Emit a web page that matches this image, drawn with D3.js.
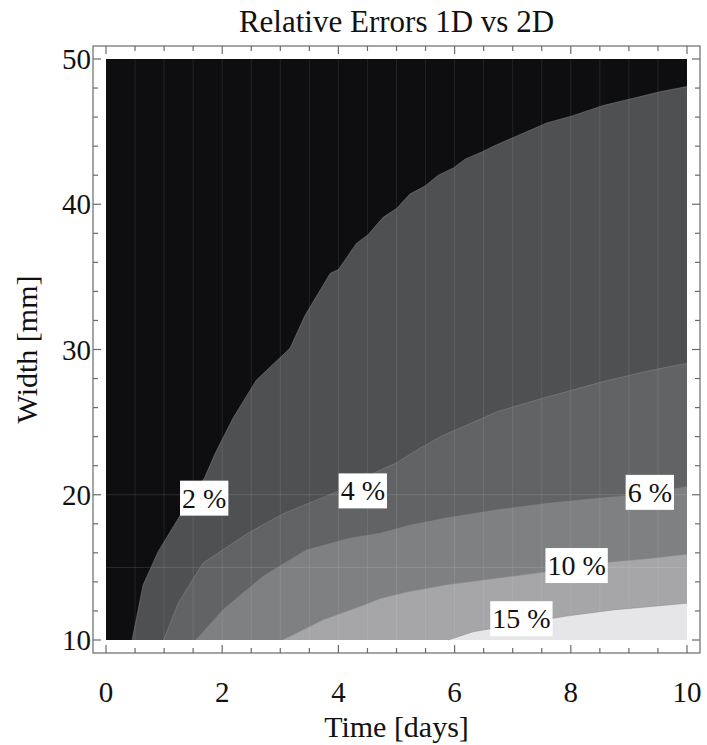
<!DOCTYPE html>
<html>
<head>
<meta charset="utf-8">
<script src="https://cdn.jsdelivr.net/npm/d3@7"></script>
<style>
  body { margin: 0; background: #fff; }
  text { font-family: "Liberation Serif", "Times New Roman", serif; fill: #111; }
</style>
</head>
<body>
<svg id="chart" width="707" height="745"></svg>
<script>
// contour lines: [time (days), width (mm)]
const contour2 = [[0.45, 10], [0.64, 13.8], [0.9, 16.1], [1.25, 18.4], [1.7, 21.2], [1.88, 22.85],
    [2.19, 25.3], [2.59, 27.9], [3.17, 30.1], [3.42, 32.3], [3.86, 35.25], [4.0, 35.5], [4.31, 37.3],
    [4.51, 37.9], [4.77, 39.1], [5.0, 39.7], [5.23, 40.7], [5.49, 41.25], [5.72, 42.0], [5.98, 42.5],
    [6.18, 43.1], [6.47, 43.6], [6.67, 44.0], [7.13, 44.8], [7.59, 45.6], [8.04, 46.1], [8.56, 46.8],
    [9.08, 47.3], [9.54, 47.75], [10, 48.1]];
const contour4 = [[0.99, 10], [1.25, 12.6], [1.67, 15.3], [2.42, 17.3], [3.05, 18.7], [4.03, 20.3],
    [4.72, 21.7], [5.0, 22.2], [5.4, 23.2], [5.81, 24.1], [6.27, 24.9], [6.72, 25.7], [7.3, 26.4],
    [7.93, 27.1], [8.56, 27.8], [9.31, 28.5], [10, 29.05]];
const contour6 = [[1.55, 10], [2.02, 12.1], [2.71, 14.4], [3.45, 16.2], [4.2, 17.0], [4.72, 17.35],
    [5.23, 17.9], [5.86, 18.4], [6.72, 18.95], [7.59, 19.4], [8.45, 19.75], [9.19, 20.0], [10, 20.55]];
const contour10 = [[3.04, 10], [3.74, 11.4], [4.43, 12.4], [4.72, 12.85], [5.17, 13.3], [5.86, 13.8],
    [6.72, 14.25], [7.59, 14.7], [8.45, 15.28], [9.31, 15.6], [10, 15.9]];
const contour15 = [[5.89, 10], [6.32, 10.57], [7.1, 11.1], [7.93, 11.65], [8.73, 12.07], [9.48, 12.34], [10, 12.53]];

const contours = [contour2, contour4, contour6, contour10, contour15];
const bandColors = ["#0e0e10", "#4f5052", "#626365", "#7f8082", "#a6a6a9", "#e6e6e8"];

const labelText = ["2 %", "4 %", "6 %", "10 %", "15 %"];
const labelTime = [1.69, 4.42, 9.36, 8.1, 7.15];
const labelWidth = [19.8, 20.3, 20.2, 15.16, 11.5];

const xTicks = [0, 2, 4, 6, 8, 10];
const yTicks = [10, 20, 30, 40, 50];

const svg = d3.select("#chart");
const x = d3.scaleLinear().domain([0, 10]).range([106, 687]);
const y = d3.scaleLinear().domain([10, 50]).range([640, 59]);
const pad = 13;

// background band
svg.append("rect")
    .attr("x", x(0)).attr("y", y(50))
    .attr("width", x(10) - x(0)).attr("height", y(10) - y(50))
    .attr("fill", bandColors[0]);

const area = d3.area()
    .x(d => x(d[0]))
    .y0(y(10))
    .y1(d => y(d[1]));

const line = d3.line()
    .x(d => x(d[0]))
    .y(d => y(d[1]));

// each contour fills everything below/right of it, painted in order
svg.selectAll("path.band")
    .data(contours)
    .enter().append("path")
    .attr("class", "band")
    .attr("d", d => area(d))
    .attr("fill", (d, i) => bandColors[i + 1]);

// faint mesh lines
const grid = svg.append("g").attr("stroke", "#fff").attr("stroke-opacity", 0.09);
grid.selectAll("line.v")
    .data(d3.range(0.5, 10, 0.5))
    .enter().append("line")
    .attr("x1", d => x(d)).attr("x2", d => x(d))
    .attr("y1", y(50)).attr("y2", y(10));
grid.selectAll("line.h")
    .data([15, 20])
    .enter().append("line")
    .attr("x1", x(0)).attr("x2", x(10))
    .attr("y1", d => y(d)).attr("y2", d => y(d))
    .attr("stroke-opacity", 0.12);

svg.selectAll("path.contour")
    .data(contours)
    .enter().append("path")
    .attr("class", "contour")
    .attr("d", d => line(d))
    .attr("fill", "none")
    .attr("stroke", "#8a8a8c")
    .attr("stroke-opacity", 0.5)
    .attr("stroke-width", 1);

// frame
const frameL = x(0) - pad, frameR = x(10) + pad, frameT = y(50) - pad, frameB = y(10) + pad;
svg.append("rect")
    .attr("x", frameL).attr("y", frameT)
    .attr("width", frameR - frameL).attr("height", frameB - frameT)
    .attr("fill", "none")
    .attr("stroke", "#6a6a6a")
    .attr("stroke-width", 1.2);

const ticks = svg.append("g").attr("stroke", "#6a6a6a").attr("stroke-width", 1.2);
d3.range(0, 10.01, 0.5).forEach(t => {
    const len = (t % 2 === 0) ? 8 : 5;
    ticks.append("line").attr("x1", x(t)).attr("x2", x(t)).attr("y1", frameB).attr("y2", frameB - len);
    ticks.append("line").attr("x1", x(t)).attr("x2", x(t)).attr("y1", frameT).attr("y2", frameT + len);
});
d3.range(10, 50.01, 2).forEach(w => {
    const len = (w % 10 === 0) ? 8 : 5;
    ticks.append("line").attr("y1", y(w)).attr("y2", y(w)).attr("x1", frameL).attr("x2", frameL + len);
    ticks.append("line").attr("y1", y(w)).attr("y2", y(w)).attr("x1", frameR).attr("x2", frameR - len);
});

// tick labels
svg.selectAll("text.xt")
    .data(xTicks)
    .enter().append("text")
    .attr("x", d => x(d)).attr("y", 702)
    .attr("text-anchor", "middle")
    .style("font-size", "29px")
    .text(d => d);
svg.selectAll("text.yt")
    .data(yTicks)
    .enter().append("text")
    .attr("x", frameL - 2).attr("y", d => y(d) + 10)
    .attr("text-anchor", "end")
    .style("font-size", "29px")
    .text(d => d);

// titles
svg.append("text")
    .attr("x", (x(0) + x(10)) / 2).attr("y", 32)
    .attr("text-anchor", "middle")
    .style("font-size", "31px")
    .text("Relative Errors 1D vs 2D");
svg.append("text")
    .attr("x", (x(0) + x(10)) / 2).attr("y", 737)
    .attr("text-anchor", "middle")
    .style("font-size", "30px")
    .text("Time [days]");
svg.append("text")
    .attr("transform", `translate(37,${(y(10) + y(50)) / 2}) rotate(-90)`)
    .attr("text-anchor", "middle")
    .style("font-size", "30px")
    .text("Width [mm]");

// contour labels
labelText.forEach((txt, i) => {
    const g = svg.append("g").attr("transform", `translate(${x(labelTime[i])},${y(labelWidth[i])})`);
    const rect = g.append("rect").attr("fill", "#fff");
    const t = g.append("text")
        .attr("text-anchor", "middle")
        .attr("y", 10)
        .style("font-size", "28px")
        .text(txt);
    const b = t.node().getBBox();
    rect.attr("x", b.x - 2).attr("y", -17)
        .attr("width", b.width + 4).attr("height", 35);
});
</script>
</body>
</html>
